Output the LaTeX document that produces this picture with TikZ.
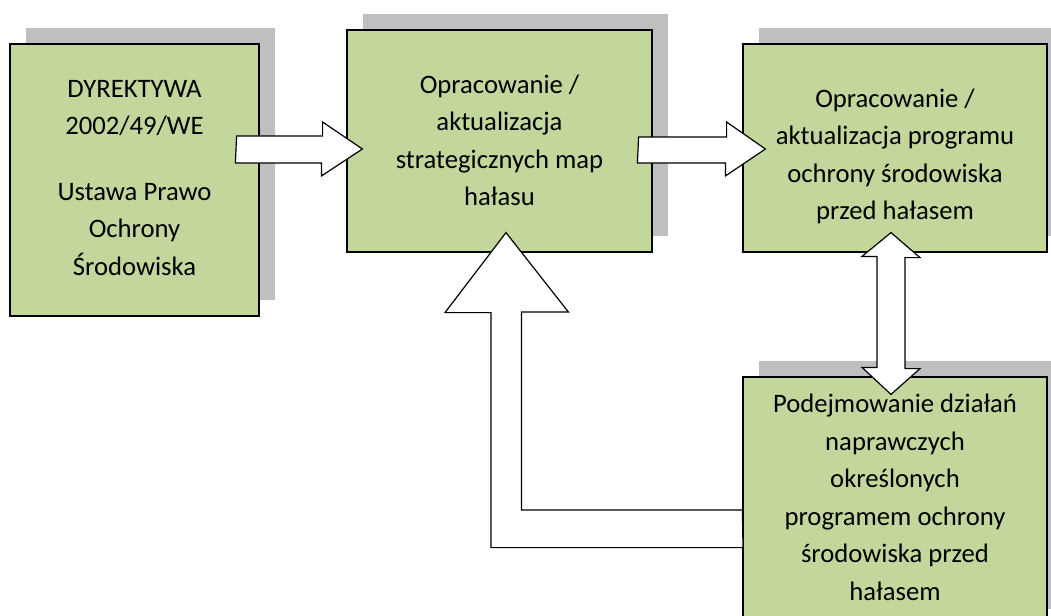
\documentclass[tikz,border=0pt]{standalone}
\usepackage{fontspec}
\setmainfont{Carlito}
\usetikzlibrary{calc,shadows}
\definecolor{boxgreen}{RGB}{195,214,155}
\definecolor{shadowgray}{RGB}{191,191,191}
\tikzset{
  box/.style={draw=black, line width=0.9pt, fill=boxgreen, inner sep=0pt,
    drop shadow={shadow xshift=12pt, shadow yshift=12pt, fill=shadowgray, opacity=1}},
  txt/.style={align=center, inner sep=0pt, anchor=base,
    font=\fontsize{20pt}{28.1pt}\selectfont},
  barrow/.style={draw=black, line width=0.9pt, fill=white, line join=miter},
}
\begin{document}
\begin{tikzpicture}[x=0.75pt, y=-0.75pt]
\clip (0,0) rectangle (1051,615);
% boxes
\node[box, minimum width=186.75pt, minimum height=204pt] (L) at (134.5,180) {};
\node[box, minimum width=228.75pt, minimum height=166.5pt] (M) at (499.5,141) {};
\node[box, minimum width=228pt, minimum height=156pt] (R) at (895,148) {};
\node[box, minimum width=228pt, minimum height=186pt] (B) at (895,501) {};
% texts (anchored at the baseline of their last line)
\node[txt] (Lt) at (134.5,275) {DYREKTYWA\\2002/49/WE\\[21pt]Ustawa Prawo\\Ochrony\\Środowiska};
\node[txt] (Mt) at (499.5,205.5) {Opracowanie /\\aktualizacja\\strategicznych map\\hałasu};
\node[txt] (Rt) at (895,219.5) {Opracowanie /\\aktualizacja programu\\ochrony środowiska\\przed hałasem};
\node[txt] (Bt) at (895,600) {Podejmowanie działań\\naprawczych\\określonych\\programem ochrony\\środowiska przed\\hałasem};
% arrows
\draw[barrow] ($(L.east)+(-23,-44)$) -- ++(86,0) -- ++(0,-14) -- ($(M.west)+(16,8)$)
  -- ++(-41,27) -- ++(0,-13) -- ++(-86,0) -- cycle;
\draw[barrow] ($(M.east)+(-14,-4)$) -- ++(88,0) -- ++(0,-15) -- ($(R.west)+(23,1)$)
  -- ++(-40,27) -- ++(0,-13) -- ++(-88,0) -- cycle;
\draw[barrow] ($(R.south)+(-4,-20)$) -- ++(29,25) -- ++(-15,0) -- ++(0,111) -- ++(15,0)
  -- ($(B.north)+(-4,18)$) -- ++(-29,-27) -- ++(15,0) -- ++(0,-111) -- ++(-15,0) -- cycle;
\draw[barrow] ($(B.west)+(0,9)$) -- ++(-221,0) -- ++(0,-198) -- ++(47,0)
  -- ($(M.south)+(6.5,-20)$) -- ++(-61,80) -- ++(46,0) -- ++(0,235) -- ++(252,0) -- cycle;
\end{tikzpicture}
\end{document}
